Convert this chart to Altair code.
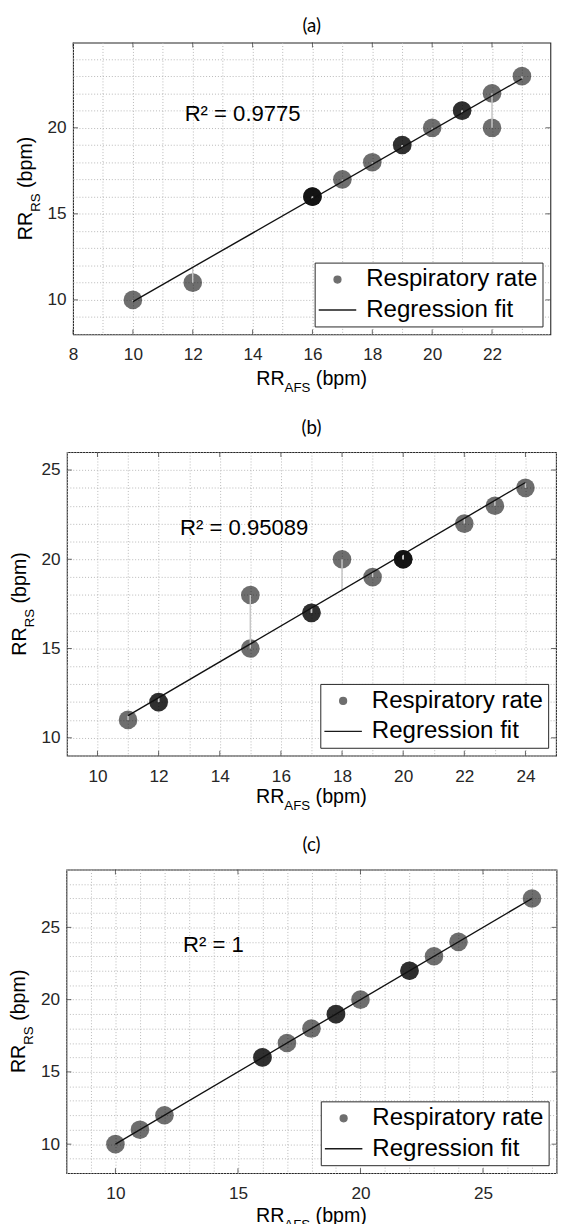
import altair as alt
import numpy as np
import pandas as pd

SERIES = ["Respiratory rate", "Regression fit"]
PANEL_TITLES = ["(a)", "(b)", "(c)"]
R2_TEXT = ["R\u00b2 = 0.9775", "R\u00b2 = 0.95089", "R\u00b2 = 1"]

# respiratory rates (bpm): AFS (x) vs reference RS (y); repeated pairs overlap
A_AFS = [10, 12, 16, 16, 16, 17, 18, 19, 19, 20, 21, 21, 22, 22, 23]
A_RS = [10, 11, 16, 16, 16, 17, 18, 19, 19, 20, 21, 21, 22, 20, 23]
B_AFS = [11, 12, 12, 15, 15, 17, 17, 18, 19, 20, 20, 20, 22, 23, 24]
B_RS = [11, 12, 12, 18, 15, 17, 17, 20, 19, 20, 20, 20, 22, 23, 24]
C_AFS = [10, 11, 12, 16, 16, 17, 18, 19, 19, 20, 22, 22, 23, 24, 27]
C_RS = [10, 11, 12, 16, 16, 17, 18, 19, 19, 20, 22, 22, 23, 24, 27]

# regression-fit line end points
FIT_X = [[10, 23], [11, 24], [10, 27]]
FIT_Y = [[9.9, 22.85], [11.24, 24.3], [10, 27]]

# axis ticks
X_TICKS = [[8, 10, 12, 14, 16, 18, 20, 22],
           [10, 12, 14, 16, 18, 20, 22, 24],
           [10, 15, 20, 25]]
Y_TICKS = [[10, 15, 20], [10, 15, 20, 25], [10, 15, 20, 25]]

X_DOMAINS = [[8, 23.95], [9, 25], [8, 28]]
Y_DOMAINS = [[8, 24.95], [9, 26], [8, 29]]
X_GRID_STEP = [0.5, 0.5, 1]
Y_GRID_STEP = [1, 1, 1]
R2_POS = [(11.73, 20.38), (12.7, 21.38), (12.76, 23.3)]
SIZES = [(486, 297), (498, 309), (499, 309)]
XTITLE_DY = [52, 48, 50]

FONT = "Liberation Sans"
F = 20.0      # axis title font
SF = 13.5     # subscript font
FRAME = "#262626"


def grid_values(dom, step):
    start = np.ceil(dom[0] / step) * step
    return [float(v) for v in np.arange(start, dom[1] + 1e-9, step)]


def label_expr(ticks):
    return "indexof([" + ",".join(str(t) for t in ticks) + "], datum.value) >= 0 ? datum.label : ''"


leg = alt.Legend(
    title=None, orient="bottom-right", offset=8, fillColor="white",
    strokeColor=FRAME, padding=5, labelFont=FONT, labelFontSize=24.5,
    labelColor="black", symbolSize=50, symbolStrokeWidth=1.3,
    symbolOffset=6, labelOffset=17, rowPadding=6, symbolOpacity=1,
    labelLimit=400,
)

one = pd.DataFrame({"k": [0]})


def txt(s, x, y, size, angle=0):
    kw = dict(text=s, align="left", baseline="alphabetic", font=FONT,
              fontSize=size, color="black")
    if angle:
        kw["angle"] = angle
    return alt.Chart(one).mark_text(**kw).encode(x=alt.value(x), y=alt.value(y))


def panel(i, xs, ys, xsub, ysub):
    w, h = SIZES[i]
    xdom, ydom = X_DOMAINS[i], Y_DOMAINS[i]
    pts = pd.DataFrame({"x": xs, "y": ys})
    fx, fy = FIT_X[i], FIT_Y[i]
    fit_df = pd.DataFrame({"x": fx, "y": fy})
    pts["yfit"] = fy[0] + (fy[1] - fy[0]) * (pts["x"] - fx[0]) / (fx[1] - fx[0])

    common = dict(grid=True, gridColor="#b8b8b8", gridDash=[1, 2], gridWidth=1,
                  tickSize=0, domain=False, labelFont=FONT, labelFontSize=17.5,
                  labelColor="#262626", format="d", labelOverlap=False, title=None)
    x_enc = alt.X("x:Q", scale=alt.Scale(domain=xdom, nice=False, zero=False),
                  axis=alt.Axis(values=grid_values(xdom, X_GRID_STEP[i]),
                                labelExpr=label_expr(X_TICKS[i]),
                                labelPadding=12, labelFlush=False, **common))
    y_enc = alt.Y("y:Q", scale=alt.Scale(domain=ydom, nice=False, zero=False),
                  axis=alt.Axis(values=grid_values(ydom, Y_GRID_STEP[i]),
                                labelExpr=label_expr(Y_TICKS[i]),
                                labelPadding=7, **common))

    points = alt.Chart(pts).mark_circle(size=360, color="black", opacity=0.57).encode(x=x_enc, y=y_enc)
    stems = alt.Chart(pts).mark_rule(color="#c6c6c6", strokeWidth=1.5).encode(x=x_enc, y=y_enc, y2="yfit:Q")
    fit = alt.Chart(fit_df).mark_line(color="#111111", strokeWidth=1.4).encode(x=x_enc, y=y_enc)
    r2df = pd.DataFrame({"x": [R2_POS[i][0]], "y": [R2_POS[i][1]], "t": [R2_TEXT[i]]})
    r2 = alt.Chart(r2df).mark_text(align="left", baseline="alphabetic", font=FONT,
                                   fontSize=22.5, color="black").encode(x=x_enc, y=y_enc, text="t:N")

    # inward tick marks on all four sides (MATLAB box style)
    xt_df = pd.DataFrame({"x": X_TICKS[i]})
    yt_df = pd.DataFrame({"y": Y_TICKS[i]})
    ticks = [
        alt.Chart(xt_df).mark_tick(orient="vertical", size=5, thickness=1, color=FRAME)
        .encode(x=x_enc, y=alt.value(2.5)),
        alt.Chart(xt_df).mark_tick(orient="vertical", size=5, thickness=1, color=FRAME)
        .encode(x=x_enc, y=alt.value(h - 2.5)),
        alt.Chart(yt_df).mark_tick(orient="horizontal", size=5, thickness=1, color=FRAME)
        .encode(y=y_enc, x=alt.value(2.5)),
        alt.Chart(yt_df).mark_tick(orient="horizontal", size=5, thickness=1, color=FRAME)
        .encode(y=y_enc, x=alt.value(w - 2.5)),
    ]

    legend = alt.Chart(pd.DataFrame({"series": SERIES})).mark_point(
        filled=True, fillOpacity=0, strokeOpacity=0, size=1).encode(
        x=alt.value(0), y=alt.value(0),
        color=alt.Color("series:N", scale=alt.Scale(domain=SERIES, range=["#6e6e6e", "#6e6e6e"]), legend=leg),
        stroke=alt.Stroke("series:N", scale=alt.Scale(domain=SERIES, range=["#6e6e6e", "#1a1a1a"]), legend=leg),
        shape=alt.Shape("series:N", scale=alt.Scale(domain=SERIES, range=["circle", "M-5.4,0H5.4"]), legend=leg),
    )

    # x title: RR_AFS (bpm)
    wRR = 1.444 * F
    wsubx = 1.945 * SF
    wsp = 0.278 * F
    wbpm = 2.611 * F
    tot = wRR + wsubx + wsp + wbpm
    x0 = w / 2 - tot / 2
    dy = XTITLE_DY[i]
    xt = [txt("RR", x0, h + dy, F), txt(xsub, x0 + wRR, h + dy + 7, SF),
          txt("(bpm)", x0 + wRR + wsubx + wsp, h + dy, F)]
    # y title: RR_RS (bpm), rotated
    wsuby = 1.389 * SF
    toty = wRR + wsuby + wsp + wbpm
    y0 = h / 2 + toty / 2
    yt = [txt("RR", -42, y0, F, 270), txt(ysub, -34, y0 - wRR, SF, 270),
          txt("(bpm)", -42, y0 - wRR - wsuby - wsp, F, 270)]

    return alt.layer(points, stems, fit, r2, *ticks, legend, *xt, *yt).properties(
        width=w, height=h,
        title=alt.Title(PANEL_TITLES[i], font="Lato", fontSize=19, fontWeight="normal",
                        color="black", offset=6),
    )


pa = panel(0, A_AFS, A_RS, "AFS", "RS")
pb = panel(1, B_AFS, B_RS, "AFS", "RS")
pc = panel(2, C_AFS, C_RS, "AFS", "RS")

chart = (alt.vconcat(pa, pb, pc, spacing=22, center=True)
         .resolve_scale(color="independent", stroke="independent", shape="independent")
         .properties(padding={"left": 0, "top": -3, "right": 0, "bottom": 0}, background="white")
         .configure_view(stroke=FRAME, strokeWidth=1.1))

chart.save("out.html", embed_options={"renderer": "svg", "actions": False})
